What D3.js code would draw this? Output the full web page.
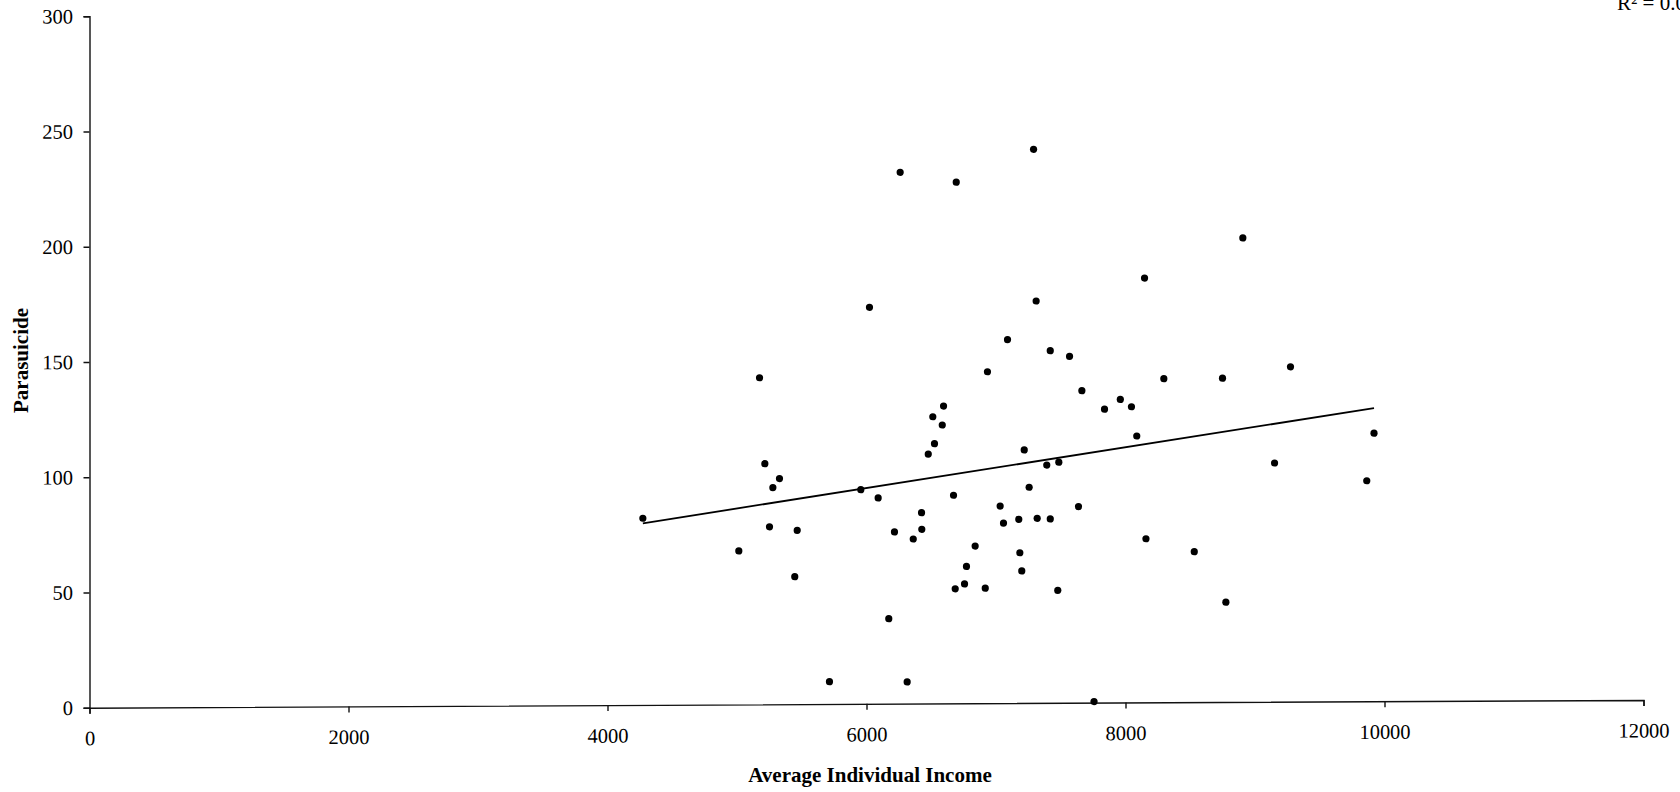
<!DOCTYPE html>
<html>
<head>
<meta charset="utf-8">
<script src="https://cdn.jsdelivr.net/npm/d3@7"></script>
<style>
  html, body { margin: 0; padding: 0; background: #fff; overflow: hidden; }
  svg { display: block; }
  .tick text { font-family: "Liberation Serif", "Times New Roman", serif; font-size: 20.5px; fill: #000; }
  .axis path, .axis line { stroke: #111; stroke-width: 1.4; }
  .title { font-family: "Liberation Serif", "Times New Roman", serif; font-weight: bold; font-size: 21px; fill: #000; }
</style>
</head>
<body>
<svg id="chart" width="1680" height="792"></svg>
<script>
// values
const incomes = [6260, 6693, 7290, 6023, 5174, 7310, 7089, 7419, 7568, 6934,
  7663, 6595, 6512, 6585, 6525, 6477, 5215, 7218, 5328, 5277,
  5956, 6090, 6672, 7256, 7392, 7485, 4273, 6425, 7032, 7637,
  5251, 5465, 6216, 6427, 6361, 7058, 7176, 7318, 7419, 5014,
  6839, 7184, 5446, 6772, 7199, 6685, 6757, 6917, 7477, 6172,
  5714, 6314, 7757, 8906, 8147, 8296, 8749, 9274, 7838, 7960,
  8046, 8087, 9919, 9151, 9863, 8158, 8531, 8775];
const parasuicide = [230.5, 226.1, 240.2, 172.0, 141.7, 174.4, 157.7, 152.8, 150.3, 143.8,
  135.4, 129.0, 124.4, 120.8, 112.7, 108.2, 104.4, 109.8, 97.9, 94.0,
  92.9, 89.3, 90.3, 93.6, 103.2, 104.4, 81.0, 82.8, 85.5, 85.1,
  77.0, 75.4, 74.5, 75.6, 71.4, 78.1, 79.7, 80.1, 79.8, 66.6,
  68.2, 65.2, 55.3, 59.4, 57.3, 49.7, 51.8, 49.9, 48.8, 36.9,
  9.7, 9.4, 0.5, 201.3, 184.1, 140.4, 140.5, 145.3, 127.3, 131.5,
  128.3, 115.6, 116.3, 103.6, 95.7, 71.0, 65.3, 43.3];

// linear trend line end points
const trendIncome = [4273, 9919];
const trendRate = [78.8, 127.2];

const xTicks = [0, 2000, 4000, 6000, 8000, 10000, 12000];
const yTicks = [0, 50, 100, 150, 200, 250, 300];
const rSquaredLabel = "R\u00b2 = 0.0";

const svg = d3.select("#chart");

const x = d3.scaleLinear().domain([0, 12000]).range([89.5, 1643.5]);
const y = d3.scaleLinear().domain([0, 300]).range([707.7, 16.2]);

// the scan is slightly tilted, so the plot is sheared a little
const plot = svg.append("g").attr("transform", "translate(0,0.45) skewY(-0.2865)");

plot.append("g")
  .attr("class", "axis")
  .attr("transform", `translate(0,${y(0)})`)
  .call(d3.axisBottom(x).tickValues(xTicks).tickFormat(d3.format("d")).tickSize(6).tickPadding(17));

plot.append("g")
  .attr("class", "axis")
  .attr("transform", `translate(${x(0)},0)`)
  .call(d3.axisLeft(y).tickValues(yTicks).tickSize(6).tickPadding(10.5));

const line = d3.line().x(d => x(d[0])).y(d => y(d[1]));
plot.append("path")
  .datum(d3.zip(trendIncome, trendRate))
  .attr("d", line)
  .attr("fill", "none")
  .attr("stroke", "#000")
  .attr("stroke-width", 1.8);

plot.append("g")
  .selectAll("circle")
  .data(d3.zip(incomes, parasuicide))
  .join("circle")
    .attr("cx", d => x(d[0]))
    .attr("cy", d => y(d[1]))
    .attr("r", 3.6)
    .attr("fill", "#000");

svg.append("text")
  .attr("class", "title")
  .attr("x", 870)
  .attr("y", 782)
  .attr("text-anchor", "middle")
  .text("Average Individual Income");

svg.append("text")
  .attr("class", "title")
  .attr("transform", "translate(28,360.5) rotate(-90)")
  .attr("text-anchor", "middle")
  .text("Parasuicide");

// label sits partly above the page edge, as in the scan
svg.append("text")
  .attr("x", 1617)
  .attr("y", 10)
  .attr("font-family", "Liberation Serif, Times New Roman, serif")
  .attr("font-size", 21)
  .attr("xml:space", "preserve")
  .text(rSquaredLabel);
</script>
</body>
</html>
